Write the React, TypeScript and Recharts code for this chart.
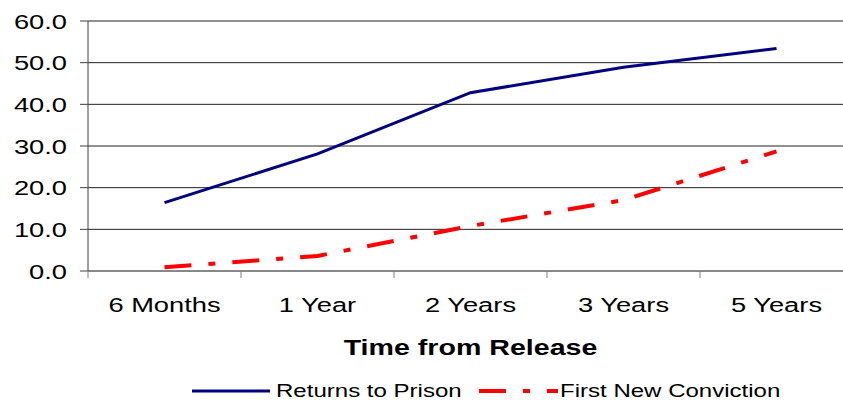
import { LineChart, Line, XAxis, YAxis, CartesianGrid, Legend, Label } from 'recharts'

const periods = ['6 Months', '1 Year', '2 Years', '3 Years', '5 Years']
const returnsToPrison = [16.4, 28.1, 42.8, 48.9, 53.4]
const firstNewConviction = [0.9, 3.6, 10.8, 17.0, 28.7]
const yTicks = [0, 10, 20, 30, 40, 50, 60]

const seriesNames = {
  returns: 'Returns to Prison',
  conviction: 'First New Conviction',
}

const FONT = '"Liberation Sans", Arial, sans-serif'
// the reference text is stretched sideways
const STRETCH = 1.3

const CHART_W = 860
const CHART_H = 400
const PLOT_LEFT = 88
const PLOT_RIGHT = 853
const BAND = (PLOT_RIGHT - PLOT_LEFT) / periods.length

const YTick = ({ x, y, payload }: any) => (
  <g transform={`translate(${x},${y})`}>
    <text transform={`scale(${STRETCH},1)`} textAnchor="end" dy="0.36em" fontSize={21} fontFamily={FONT} fill="#000">
      {Number(payload.value).toFixed(1)}
    </text>
  </g>
)

const XTick = ({ x, y, payload, index }: any) => (
  <g>
    {/* excel style: tick marks sit between categories */}
    <line x1={x - BAND / 2} x2={x - BAND / 2} y1={y - 26} y2={y - 19} stroke="#808080" />
    {index === periods.length - 1 && (
      <line x1={x + BAND / 2} x2={x + BAND / 2} y1={y - 26} y2={y - 19} stroke="#808080" />
    )}
    <g transform={`translate(${x},${y})`}>
      <text transform={`scale(${STRETCH},1)`} textAnchor="middle" dy="0.71em" fontSize={21} fontFamily={FONT} fill="#000">
        {payload.value}
      </text>
    </g>
  </g>
)

const AxisTitle = ({ viewBox }: any) => (
  <g transform={`translate(${viewBox.x + viewBox.width / 2},${viewBox.y + 84})`}>
    <text transform={`scale(${STRETCH},1)`} textAnchor="middle" fontSize={22} fontWeight="bold" fontFamily={FONT} fill="#000">
      Time from Release
    </text>
  </g>
)

const LegendContent = () => (
  <svg width={843} height={24} style={{ display: 'block' }}>
    <line x1={192} x2={270} y1={15} y2={15} stroke="#000080" strokeWidth={3} />
    <g transform="translate(276,21)">
      <text transform={`scale(${STRETCH},1)`} fontSize={18.5} fontFamily={FONT} fill="#000">
        {seriesNames.returns}
      </text>
    </g>
    <line x1={479} x2={558} y1={15} y2={15} stroke="#FF0000" strokeWidth={4} strokeDasharray="27 17 7 17" />
    <g transform="translate(560,21)">
      <text transform={`scale(${STRETCH},1)`} fontSize={18.5} fontFamily={FONT} fill="#000">
        {seriesNames.conviction}
      </text>
    </g>
  </svg>
)

export default function App() {
  const chartData = periods.map((period, i) => ({
    period,
    returns: returnsToPrison[i],
    conviction: firstNewConviction[i],
  }))

  return (
    <div style={{ position: 'absolute', left: 0, top: 0, width: 843, height: 400, overflow: 'hidden', background: '#fff' }}>
      <LineChart
        width={CHART_W}
        height={CHART_H}
        data={chartData}
        margin={{ top: 21, right: CHART_W - PLOT_RIGHT, left: 0, bottom: 0 }}
      >
        <CartesianGrid vertical={false} stroke="#222" />
        <XAxis
          dataKey="period"
          height={105}
          stroke="#808080"
          padding={{ left: BAND / 2, right: BAND / 2 }}
          tickLine={false}
          tickMargin={19}
          tickSize={7}
          tick={<XTick />}
          interval={0}
        >
          <Label content={<AxisTitle />} />
        </XAxis>
        <YAxis
          width={PLOT_LEFT}
          domain={[0, 60]}
          ticks={yTicks}
          stroke="#404040"
          tickSize={8}
          tickMargin={13}
          tick={<YTick />}
        />
        <Legend verticalAlign="bottom" height={24} content={<LegendContent />} />
        <Line
          type="linear"
          dataKey="returns"
          name={seriesNames.returns}
          stroke="#000080"
          strokeWidth={3}
          dot={false}
          activeDot={false}
          isAnimationActive={false}
        />
        <Line
          type="linear"
          dataKey="conviction"
          name={seriesNames.conviction}
          stroke="#FF0000"
          strokeWidth={4}
          strokeDasharray="27 17 7 17"
          dot={false}
          activeDot={false}
          isAnimationActive={false}
        />
      </LineChart>
    </div>
  )
}
